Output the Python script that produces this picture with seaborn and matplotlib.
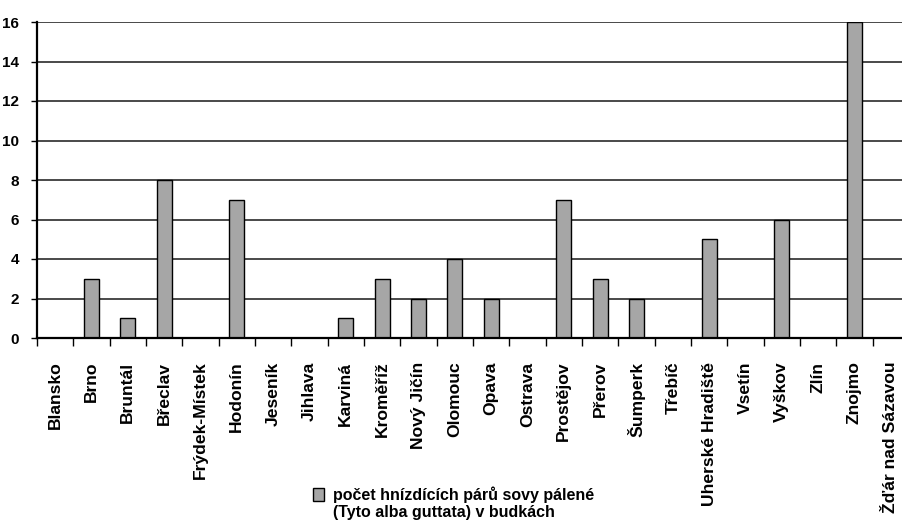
import matplotlib
matplotlib.use("Agg")
import matplotlib.pyplot as plt
from matplotlib import font_manager
from matplotlib.ticker import FixedLocator
import seaborn as sns
import pandas as pd

districts = [
    "Blansko", "Brno", "Bruntál", "Břeclav", "Frýdek-Místek", "Hodonín",
    "Jeseník", "Jihlava", "Karviná", "Kroměříž", "Nový Jičín", "Olomouc",
    "Opava", "Ostrava", "Prostějov", "Přerov", "Šumperk", "Třebíč",
    "Uherské Hradiště", "Vsetín", "Vyškov", "Zlín", "Znojmo",
    "Žďár nad Sázavou",
]
pairs = [0, 3, 1, 8, 0, 7, 0, 0, 1, 3, 2, 4, 2, 0, 7, 3, 2, 0, 5, 0, 6, 0, 16, 0]
y_ticks = [0, 2, 4, 6, 8, 10, 12, 14, 16]
legend_line1 = "počet hnízdících párů sovy pálené"
legend_line2 = "(Tyto alba guttata) v budkách"

df = pd.DataFrame({"okres": districts, "pary": pairs})

sns.set_theme(style="white")
available = {f.name for f in font_manager.fontManager.ttflist}
narrow = "Liberation Sans Narrow" if "Liberation Sans Narrow" in available else "Liberation Sans"
plt.rcParams["font.family"] = ["Liberation Sans", "DejaVu Sans"]

fig = plt.figure(figsize=(9.03, 5.22), dpi=100)
ax = fig.add_axes([37 / 903, 1 - 338 / 522, 872 / 903, 316 / 522])

sns.barplot(data=df, x="okres", y="pary", color="#a6a6a6", saturation=1,
            edgecolor="black", linewidth=1.0, width=0.42, ax=ax,
            label=legend_line1)
if ax.get_legend() is not None:
    ax.get_legend().remove()

ax.set_ylim(0, 16)
ax.set_xlim(-0.5, len(districts) - 0.5)
ax.set_yticks(y_ticks)
ax.yaxis.grid(True, color="#2a2a2a", linewidth=1.2)
ax.set_axisbelow(True)
ax.set_xlabel("")
ax.set_ylabel("")

for side in ("top", "right"):
    ax.spines[side].set_visible(False)
ax.spines["left"].set_color("black")
ax.spines["left"].set_linewidth(1.6)
ax.spines["bottom"].set_color("black")
ax.spines["bottom"].set_linewidth(1.6)

# category boundaries carry the tick marks
ax.xaxis.set_minor_locator(FixedLocator([i - 0.5 for i in range(len(districts) + 1)]))
ax.tick_params(axis="x", which="major", length=0, pad=17)
ax.tick_params(axis="x", which="minor", bottom=True, length=5.5, width=1.0, color="black")
ax.tick_params(axis="y", which="major", left=True, length=4.5, width=1.0,
               color="black", pad=8.5)

ax.set_xticks(range(len(districts)))
ax.set_xticklabels(districts, rotation=90, ha="center", va="top",
                   fontsize=12.6, fontweight="bold", color="black")
for lab in ax.get_yticklabels():
    lab.set_fontfamily([narrow, "DejaVu Sans"])
    lab.set_fontsize(11)
    lab.set_fontweight("bold")
    lab.set_color("black")

legend_font = {"family": [narrow, "DejaVu Sans"], "size": 11.5, "weight": "bold"}
handles, labels = ax.get_legend_handles_labels()
leg = fig.legend(handles, labels, loc="center left",
                 bbox_to_anchor=(302 / 903, 1 - 495 / 522), frameon=False,
                 handlelength=0.65, handleheight=0.85, handletextpad=0.6,
                 borderpad=0.2, prop=legend_font)
for t in leg.get_texts():
    t.set_color("black")
fig.text(333 / 903, 1 - 513 / 522, legend_line2, ha="left", va="center",
         color="black", **{"fontfamily": legend_font["family"],
                           "fontsize": legend_font["size"],
                           "fontweight": legend_font["weight"]})

fig.savefig("out.png", dpi=100)
